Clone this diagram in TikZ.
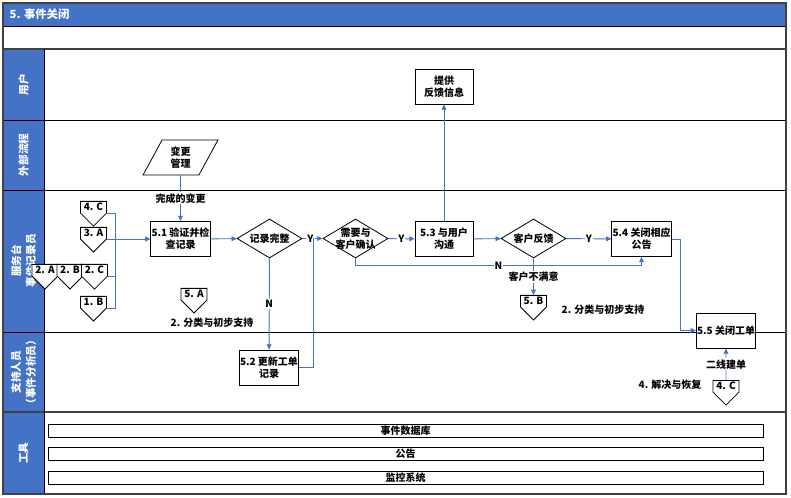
\documentclass[tikz,border=0pt]{standalone}
\usepackage{fontspec}
\setmainfont{Noto Sans CJK SC}
\usetikzlibrary{positioning,arrows.meta,shapes.geometric,shapes.symbols}
\definecolor{laneblue}{RGB}{68,114,196}
\definecolor{darkframe}{RGB}{64,64,64}
\begin{document}
\begin{tikzpicture}[x=0.75pt,y=-0.75pt,font=\fontsize{7.5}{9}\selectfont\bfseries,
box/.style={draw,line width=0.6pt,fill=white,align=center,minimum width=43.5pt,minimum height=26.25pt,inner sep=0.5pt},
dia/.style={draw,diamond,aspect=1.67,line width=0.6pt,fill=white,minimum width=48.75pt,minimum height=29.25pt,inner sep=0pt},
off/.style={draw,signal,signal to=south,signal pointer angle=90,line width=0.6pt,fill=white,minimum width=19.5pt,inner sep=1.5pt,anchor=north},
flow/.style={draw=laneblue,line width=0.7pt},
arr/.style={flow,-{Triangle[length=4pt,width=3.6pt]}},
tag/.style={fill=white,inner sep=0.8pt},
lane/.style={white,rotate=90,align=center,font=\fontsize{8}{11}\selectfont\bfseries},
bar/.style={draw,line width=0.6pt,minimum width=536.25pt,minimum height=9.75pt,inner sep=0pt}]
\useasboundingbox (0,0) rectangle (791,498);
\fill[laneblue] (3,3) rectangle (786,26);
\fill[laneblue] (3,49) rectangle (44,494);
\foreach \y in {26,120,190,332}
\draw (3,\y)--(786,\y);
\foreach \y in {49,412}
\draw[darkframe,line width=1.2pt] (3,\y)--(786,\y);
\draw (44,49)--(44,494);
\draw[darkframe,line width=1.5pt] (3,3) rectangle (786,494);
\node[white,anchor=west,font=\fontsize{8.5}{10}\selectfont\bfseries] (title) at (5,14.5) {5. 事件关闭};
\foreach \n/\y/\t in {user/85/用户,ext/155/外部流程,desk/261/{服务台\\事件记录员},sup/372/{支持人员\\（事件分析员）},tool/453/工具}
\node[lane] (lane\n) at (23.5,\y) {\t};
\foreach \n/\y/\t in {1/430.5/事件数据库,2/453.5/公告,3/478/监控系统}
\node[bar] (bar\n) at (405.5,\y) {\t};
\foreach \n/\x/\y/\t in {c4C/93.5/201/4. C,c3A/93.5/227/3. A,c2A/45/264/2. A,c2B/70/264/2. B,c2C/94.5/264/2. C,c1B/93.5/296/1. B,c5A/194/288/5. A,c5B/533.5/295/5. B,c4Cr/726/380/4. C}
\node[off] (\n) at (\x,\y) {\t};
\node[box] (fb) at (444,86.5) {提供\\反馈信息};
\node[draw,trapezium,trapezium left angle=64,trapezium right angle=116,trapezium stretches=true,minimum width=56.25pt,minimum height=26.25pt,align=center,line width=0.6pt] (chg) at (180.5,157.5) {变更\\管理};
\node[box] (v51) at (180.5,239) {5.1 验证并检\\查记录};
\node[dia] (d1) at (269.5,238.5) {记录完整};
\node[box] (v52) at (269,367.5) {5.2 更新工单\\记录};
\node[dia,label={[align=center]center:{需要与\\客户确认}}] (d2) at (355.5,238.5) {};
\node[box] (v53) at (444,239) {5.3 与用户\\沟通};
\node[dia] (d3) at (533.5,238.5) {客户反馈};
\node[box] (v54) at (641.5,239) {5.4 关闭相应\\公告};
\node[box] (v55) at (726,330.5) {5.5 关闭工单};
\node (cls1) at (212,323) {2. 分类与初步支持};
\node[anchor=west] (cls2) at (557,310) {2. 分类与初步支持};
\node (res) at (670,385) {4. 解决与恢复};
\coordinate (bus) at (115,308);
\coordinate (j1) at (313,238.5);
\draw[flow] ([yshift=-9pt]c4C.north -| c4C.east) -| (bus) -- ([yshift=-9pt]c1B.north -| c1B.east);
\draw[flow] ([yshift=-9pt]c2C.north -| c2C.east) -- ([yshift=-9pt]c2C.north -| bus);
\draw[arr] ([yshift=-9pt]c3A.north -| c3A.east) -- (v51);
\draw[arr] (chg) -- node[tag]{完成的变更} (v51);
\draw[arr] (v51) -- (d1);
\draw[arr] (d1) -- node[tag,pos=0.4]{Y} (d2);
\draw[arr] (d1) -- node[tag]{N} (v52);
\draw[flow] (v52) -| (j1);
\draw[arr] (d2) -- node[tag]{Y} (v53);
\draw[arr] (v53) -- (fb);
\draw[arr] (v53) -- (d3);
\draw[arr] (d3) -- node[tag]{Y} (v54);
\draw[arr] (d2.south) -- ++(0,7) -| node[tag,pos=0.25]{N} (v54.south);
\draw[arr] (d3) -- node[tag]{客户不满意} (c5B);
\draw[arr] (v54.east) -- ++(9,0) |- (v55.west);
\draw[arr] (c4Cr) -- node[tag]{二线建单} (v55);
\end{tikzpicture}
\end{document}
